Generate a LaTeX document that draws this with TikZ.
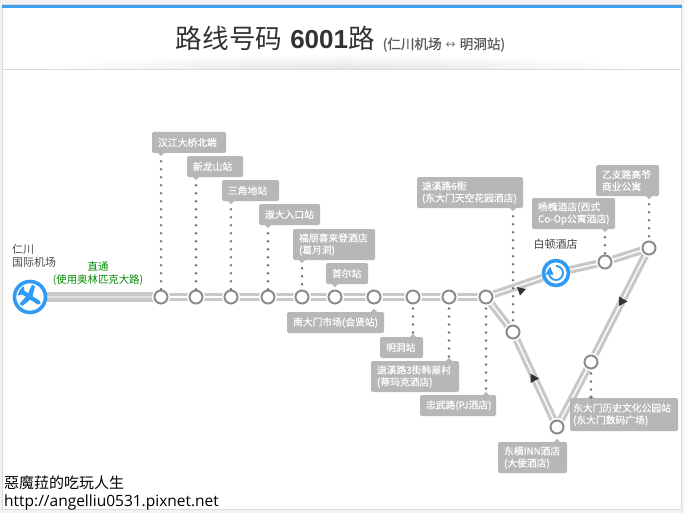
\documentclass[tikz,border=0pt]{standalone}
\usepackage{fontspec}
\setmainfont{Liberation Sans}
\newfontfamily\cjk{Noto Sans CJK SC}
\newfontfamily\cjklab[FakeBold=0.2]{Noto Sans CJK SC}
\newfontfamily\cjksub[FakeBold=0.5]{Noto Sans CJK SC}
\newfontfamily\cjktc{Noto Sans CJK TC}
\newfontfamily\urlfont{Open Sans}
\usetikzlibrary{backgrounds,calc}
\definecolor{blueico}{HTML}{2F9BF5}
\definecolor{barblue}{HTML}{3C9FEF}
\definecolor{track}{HTML}{C8C8C8}
\definecolor{labgray}{HTML}{B7B7B7}
\definecolor{ringgray}{HTML}{8C8C8C}
\definecolor{dotgray}{HTML}{6F6F6F}
\tikzset{
  stn/.style={circle,draw=ringgray,line width=2pt,fill=white,minimum size=13pt,inner sep=0pt,
    preaction={draw=white,line width=5pt}},
  hub/.style={circle,draw=blueico,line width=3.6pt,fill=white,minimum size=30pt,inner sep=0pt},
  trackline/.style={draw=track,line width=3.2pt,double=white,double distance=1.4pt},
  dotline/.style={dotgray,line width=2.7pt,line cap=round,dash pattern=on 0pt off 8pt},
  lab/.style={fill=labgray,rounded corners=1.5pt,inner sep=0pt,text=white,align=left,
    font=\cjklab\fontsize{9.8}{12}\selectfont,anchor=center},
  labtip/.style={fill=labgray},
  arrowtri/.style={fill=black!80},
  captxt/.style={inner sep=0pt,align=left,anchor=west},
}
% \lab{name}{x1}{y1}{x2}{y2}{text}
\newcommand{\lab}[6]{%
  \pgfmathsetmacro{\lw}{#4-#2}\pgfmathsetmacro{\lh}{#5-#3}%
  \pgfmathsetmacro{\lx}{(#2+#4)/2}\pgfmathsetmacro{\ly}{(#3+#5)/2}%
  \pgfmathsetmacro{\tw}{\lw-12}%
  \node[lab,minimum width=\lw pt,minimum height=\lh pt,text width=\tw pt] (#1) at (\lx,\ly) {#6};}
\newcommand{\tipdown}[2]{\fill[labtip] ($(#1.south -| #2)+(-3,0)$) -- ($(#1.south -| #2)+(3,0)$) -- ($(#1.south -| #2)+(0,3)$) -- cycle;}
\newcommand{\tipup}[2]{\fill[labtip] ($(#1.north -| #2)+(-3,0)$) -- ($(#1.north -| #2)+(3,0)$) -- ($(#1.north -| #2)+(0,-3)$) -- cycle;}
\begin{document}
\begin{tikzpicture}[x=1pt,y=-1pt]
\useasboundingbox (0,0) rectangle (684,513);
% title
\node[inner sep=0pt,anchor=base,text=black!80] (title) at (340.5,49)
  {{\cjk\fontsize{26.6}{30}\selectfont 路线号码}\hspace{8pt}{\fontsize{26}{30}\selectfont\bfseries 6001}{\cjk\fontsize{26.6}{30}\selectfont 路}\hspace{8pt}{\color{black!65}\cjksub\fontsize{13.6}{15}\selectfont (仁川机场\hspace{4pt}{\fontspec{DejaVu Sans}\fontsize{12}{15}\selectfont\color{black!50}↔}\hspace{4pt}明洞站)}};
% stations
\node[hub,minimum size=31pt] (air) at (30,297) {};
\foreach \n/\x in {a/161,b/196,c/231,d/268,e/302,f/335,g/374,h/413,i/449,j/486}
  \node[stn] (\n) at (\x,297) {};
\node[hub,minimum size=25pt] (hotel) at (556,273) {};
\node[stn] (k) at (605,262) {};
\node[stn] (l) at (649,248) {};
\node[stn] (m) at (591,362) {};
\node[stn] (n) at (557,427) {};
\node[stn] (o) at (513,332) {};
% page, frame and track
\begin{pgfonlayer}{background}
  \fill[black!5] (0,0) rectangle (684,513);
  \fill[white,draw=black!14,line width=1pt] (2,5) rectangle (681,509);
  \fill[barblue] (1.5,5) rectangle (681.5,8);
  \begin{scope}
    \clip (3,50) rectangle (680,69);
    \shade[inner color=black!11,outer color=white] (342,70) ellipse [x radius=300,y radius=16];
  \end{scope}
  \draw[black!14,line width=1pt] (2,69.5) -- (681,69.5);
  \draw[draw=track,line width=4pt,double=black!12,double distance=1.4pt] (air) -- (a);
  \draw[trackline] (a)--(b)--(c)--(d)--(e)--(f)--(g)--(h)--(i)--(j);
  \draw[trackline] (j)--(hotel);
  \draw[trackline] (hotel)--(k);
  \draw[trackline] (k)--(l);
  \draw[trackline] (l)--(m);
  \draw[trackline] (m)--(n);
  \draw[trackline] (n)--(o);
  \draw[trackline] (o)--(j);
\end{pgfonlayer}
% direction triangles
\fill[arrowtri] (517,287) -- (526,289) -- (520,295.5) -- cycle;
\fill[arrowtri] (530.5,373.5) -- (539,378.5) -- (530.5,383) -- cycle;
\fill[arrowtri] (619,296.5) -- (627.5,301.5) -- (619,306) -- cycle;
% plane icon
\begin{scope}[shift={(30,297)},rotate=-33]
  \draw[blueico,line width=4.2pt,line cap=round] (-10.5,0) -- (10,0);
  \fill[blueico] (2,-1) -- (-1.5,-11.5) -- (-5,-11.5) -- (-3.5,-1) -- cycle;
  \fill[blueico] (2,1) -- (-1.5,11.5) -- (-5,11.5) -- (-3.5,1) -- cycle;
  \fill[blueico] (-7,-1) -- (-10.5,-5) -- (-12,-5) -- (-11.5,5) -- (-10.5,5) -- (-7,1) -- cycle;
\end{scope}
% hotel icon
\draw[blueico,line width=1.9pt] (556,266) arc[start angle=-90,end angle=170,radius=7];
\fill[blueico] (545.5,274.5) -- (553.5,274.5) -- (550,266.5) -- cycle;
% labels
\lab{la}{152}{132}{226}{153}{汉江大桥北端}
\lab{lb}{187}{156}{243}{177}{新龙山站}
\lab{lc}{222}{180}{279}{201}{三角地站}
\lab{ld}{259}{204}{320}{225}{淑大入口站}
\lab{le}{293}{229}{375}{260}{福朋喜来登酒店\\(葛月洞)}
\lab{lf}{326}{263}{368}{284}{首尔站}
\lab{lg}{287}{312}{384}{333}{南大门市场(会贤站)}
\lab{lh}{380}{337}{423}{358}{明洞站}
\lab{li}{371}{361}{459}{392}{退溪路3街韩屋村\\(蒂玛克酒店)}
\lab{lj}{420}{395}{496}{416}{忠武路(PJ酒店)}
\lab{lo}{417}{177}{523}{208}{\hspace*{-1pt}退溪路6街\\\hspace*{-1pt}(东大门天空花园酒店)}
\lab{lk}{532}{198}{615}{229}{杨槐酒店(西式\\\mbox{Co-Op公寓酒店)}}
\lab{ll}{596}{165}{659}{196}{乙支路高爷\\商业公寓}
\lab{lm}{570}{398}{678}{431}{\hspace*{-3pt}\mbox{东大门历史文化公园站}\\\hspace*{-3pt}(东大门数码广场)}
\lab{ln}{498}{442}{567}{473}{东横INN酒店\\(大使酒店)}
% label tips
\tipdown{la}{a}\tipdown{lb}{b}\tipdown{lc}{c}\tipdown{ld}{d}\tipdown{le}{e}\tipdown{lf}{f}
\tipdown{lo}{o}\tipdown{lk}{k}\tipdown{ll}{l}
\tipup{lg}{g}\tipup{lh}{h}\tipup{li}{i}\tipup{lj}{j}\tipup{lm}{m}\tipup{ln}{n}
% dotted leaders
\foreach \s/\t in {a/la,b/lb,c/lc,d/ld,e/le,k/lk,l/ll,o/lo}
  \draw[dotline] ($(\t.south -| \s)+(0,8)$) -- (\s.north);
\foreach \s/\t in {h/lh,i/li,j/lj,m/lm}
  \draw[dotline] ($(\s.south)+(0,4)$) -- (\t.north -| \s);
% captions
\node[captxt,text=black!70,font=\cjk\fontsize{11}{13}\selectfont] (airname) at (12,256) {仁川\\国际机场};
\node[inner sep=0pt,align=center,text={green!55!black},font=\cjk\fontsize{10.4}{12.5}\selectfont] (direct) at (98,273.5) {直通\\(使用奥林匹克大路)};
\node[inner sep=0pt,text=black!75,font=\cjk\fontsize{11}{13}\selectfont] (hotelname) at (555.5,244) {白顿酒店};
% watermark
\node[captxt,text=black,font=\cjktc\fontsize{15}{18}\selectfont] (mark) at (4,483) {惡魔菈的吃玩人生};
\node[captxt,text=black,font=\urlfont\fontsize{15.5}{18}\selectfont] (url) at (4,502) {http://angelliu0531.pixnet.net};
\end{tikzpicture}
\end{document}
